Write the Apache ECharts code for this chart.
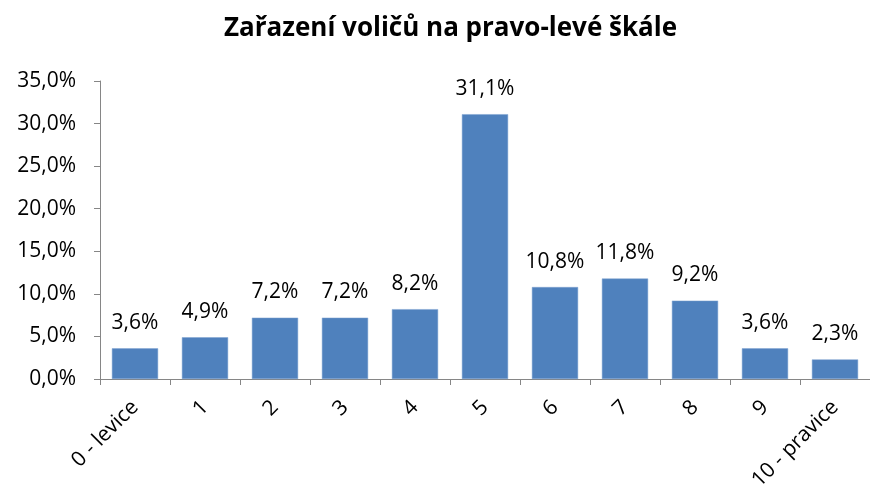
<!DOCTYPE html>
<html>
<head>
<meta charset="utf-8">
<script src="https://cdn.jsdelivr.net/npm/echarts@6/dist/echarts.min.js"></script>
<style>
  html, body { margin: 0; padding: 0; background: #fff; }
  #chart { width: 870px; height: 499px; }
</style>
</head>
<body>
<div id="chart"></div>
<script>
// data
var categories = ["0 - levice", "1", "2", "3", "4", "5", "6", "7", "8", "9", "10 - pravice"];
var shares = [3.6, 4.9, 7.2, 7.2, 8.2, 31.1, 10.8, 11.8, 9.2, 3.6, 2.3];
var yTicks = [0, 5, 10, 15, 20, 25, 30, 35];

function pct(v) {
  return v.toFixed(1).replace(".", ",") + "%";
}

var chart = echarts.init(document.getElementById("chart"));
chart.setOption({
  animation: false,
  textStyle: { fontFamily: "Open Sans" },
  title: {
    text: "Zařazení voličů na pravo-levé škále",
    left: 219,
    top: 11,
    textStyle: { fontFamily: "Open Sans", fontWeight: "bold", fontSize: 26, color: "#000" }
  },
  grid: {
    left: 100,
    right: -9,
    top: 81,
    bottom: 120,
    containLabel: false
  },
  xAxis: {
    type: "category",
    data: categories,
    axisLine: { lineStyle: { color: "#868686", width: 1 } },
    axisTick: { show: true, length: 6, lineStyle: { color: "#868686" } },
    axisLabel: {
      rotate: 45,
      interval: 0,
      margin: 25,
      fontSize: 21,
      color: "#000",
      fontFamily: "Open Sans"
    }
  },
  yAxis: {
    type: "value",
    min: yTicks[0],
    max: yTicks[yTicks.length - 1],
    interval: 5,
    splitLine: { show: false },
    axisLine: { show: true, lineStyle: { color: "#868686", width: 1 } },
    axisTick: { show: true, length: 6, lineStyle: { color: "#868686" } },
    axisLabel: {
      formatter: pct,
      fontSize: 21,
      color: "#000",
      margin: 24,
      fontFamily: "Open Sans"
    }
  },
  series: [
    {
      type: "bar",
      data: shares,
      barCategoryGap: "34%",
      itemStyle: { color: "#4F81BD", borderColor: "#7FA3D0", borderWidth: 0.5 },
      label: {
        show: true,
        position: "top",
        distance: 15,
        formatter: function (p) { return pct(p.value); },
        fontSize: 21,
        color: "#000",
        fontFamily: "Open Sans"
      }
    }
  ]
});
</script>
</body>
</html>
